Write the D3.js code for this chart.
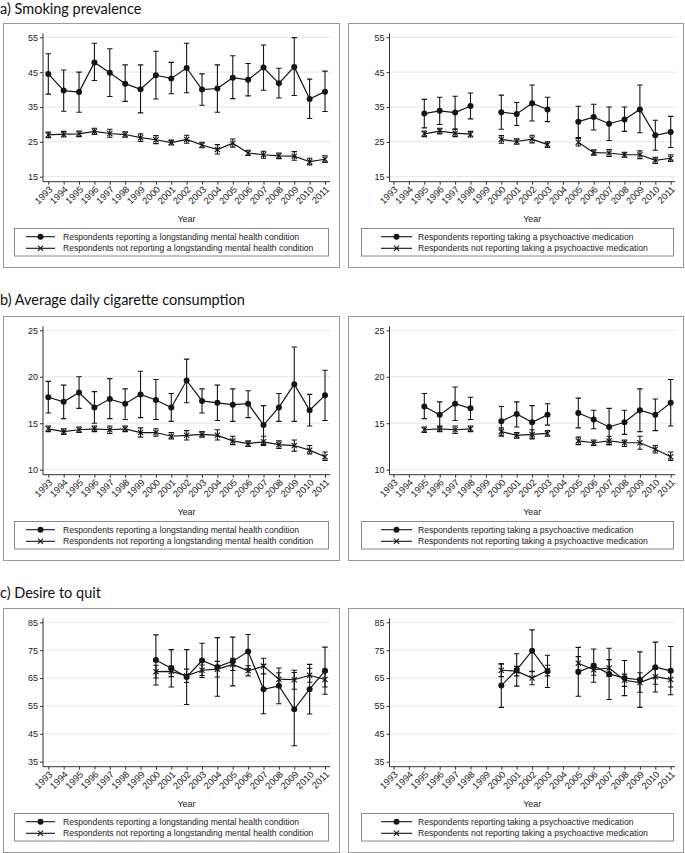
<!DOCTYPE html>
<html><head><meta charset="utf-8">
<script src="https://cdn.jsdelivr.net/npm/d3@7"></script>
<style>body{margin:0;background:#fff} svg{display:block}</style>
</head><body><svg id="c" width="685" height="853"></svg>
<script>
const years = [1993,1994,1995,1996,1997,1998,1999,2000,2001,2002,2003,2004,2005,2006,2007,2008,2009,2010,2011];
const yearLabels = years.map(String);
const _ = null;

// a) Smoking prevalence
const aTicks = [15,25,35,45,55];
const aMhVal = [44.5,39.7,39.3,47.8,44.8,41.7,40.1,44.1,43.2,46.2,40.0,40.3,43.4,42.8,46.3,41.8,46.5,37.3,39.4];
const aMhLo  = [38.7,33.8,33.5,42.6,38.0,36.6,33.3,37.3,38.8,39.1,35.5,33.5,37.4,38.2,39.8,37.6,38.3,31.7,33.7];
const aMhHi  = [50.3,45.6,45.0,53.3,51.7,47.1,47.1,51.0,47.8,53.3,44.5,47.1,49.7,47.5,52.8,46.1,54.9,43.0,45.3];
const aNoMhVal = [27.0,27.2,27.3,28.0,27.4,27.1,26.2,25.6,24.8,25.7,24.1,22.8,24.6,21.8,21.3,21.0,20.9,19.3,20.0];
const aNoMhLo  = [26.2,26.4,26.5,27.1,26.3,26.3,25.1,24.5,24.1,24.6,23.3,21.5,23.5,21.1,20.3,20.2,19.7,18.4,19.1];
const aNoMhHi  = [27.8,28.0,28.1,28.9,28.6,27.9,27.3,26.8,25.5,26.9,24.9,24.2,25.8,22.6,22.3,21.8,22.2,20.3,21.0];
const aMedVal = [_,_,33.1,33.9,33.4,35.3,_,33.5,33.0,36.1,34.3,_,30.8,32.1,30.2,31.4,34.3,26.9,27.8];
const aMedLo  = [_,_,29.0,30.0,28.7,31.6,_,28.6,29.7,31.0,30.8,_,26.2,28.4,25.4,28.0,27.6,22.6,23.4];
const aMedHi  = [_,_,37.2,37.8,38.1,39.0,_,38.4,36.3,41.3,37.8,_,35.2,35.8,35.0,35.0,41.3,31.2,32.3];
const aNoMedVal = [_,_,27.3,28.1,27.5,27.2,_,25.7,25.1,25.8,24.2,_,24.9,21.9,21.8,21.3,21.3,19.7,20.3];
const aNoMedLo  = [_,_,26.5,27.3,26.5,26.4,_,24.6,24.3,24.7,23.4,_,23.8,21.2,20.8,20.6,20.2,18.8,19.4];
const aNoMedHi  = [_,_,28.1,28.9,28.6,28.0,_,26.8,25.9,26.9,25.0,_,26.0,22.7,22.8,22.0,22.4,20.6,21.3];

// b) Average daily cigarette consumption
const bTicks = [10,15,20,25];
const bMhVal = [17.8,17.3,18.3,16.7,17.6,17.1,18.1,17.5,16.7,19.6,17.4,17.2,17.0,17.1,14.8,16.7,19.2,16.4,18.0];
const bMhLo  = [16.1,15.5,16.6,15.0,15.5,15.4,15.6,15.4,15.2,17.2,16.1,15.3,15.2,15.6,12.7,15.2,15.2,14.7,15.3];
const bMhHi  = [19.5,19.1,20.0,18.4,19.8,18.7,20.6,19.7,18.2,21.9,18.7,19.1,18.7,18.5,16.9,18.2,23.2,18.1,20.7];
const bNoMhVal = [14.4,14.1,14.3,14.4,14.3,14.4,14.0,14.0,13.6,13.7,13.8,13.7,13.1,12.8,13.0,12.7,12.6,12.1,11.4];
const bNoMhLo  = [14.1,13.8,14.0,14.1,13.9,14.1,13.5,13.6,13.3,13.2,13.5,13.2,12.7,12.5,12.6,12.3,12.0,11.7,11.0];
const bNoMhHi  = [14.7,14.4,14.6,14.7,14.7,14.7,14.5,14.4,14.0,14.2,14.1,14.3,13.6,13.1,13.6,13.1,13.2,12.6,11.9];
const bMedVal = [_,_,16.8,15.9,17.1,16.6,_,15.2,16.0,15.1,15.9,_,16.1,15.4,14.6,15.1,16.4,15.9,17.2];
const bMedLo  = [_,_,15.5,14.6,15.3,15.4,_,13.6,14.6,13.3,14.8,_,14.5,14.4,12.7,13.8,14.1,14.2,14.7];
const bMedHi  = [_,_,18.2,17.3,18.9,17.8,_,16.8,17.3,16.9,17.1,_,17.7,16.4,16.6,16.4,18.7,17.6,19.7];
const bNoMedVal = [_,_,14.3,14.4,14.3,14.4,_,14.1,13.7,13.8,13.9,_,13.1,12.9,13.1,12.9,12.9,12.2,11.4];
const bNoMedLo  = [_,_,14.0,14.1,13.9,14.1,_,13.7,13.4,13.4,13.6,_,12.7,12.6,12.7,12.5,12.2,11.8,11.0];
const bNoMedHi  = [_,_,14.6,14.7,14.7,14.7,_,14.5,14.0,14.3,14.2,_,13.5,13.2,13.6,13.2,13.6,12.6,11.9];

// c) Desire to quit
const cTicks = [35,45,55,65,75,85];
const cMhVal = [_,_,_,_,_,_,_,71.5,68.5,65.4,71.3,69.0,71.0,74.5,61.0,62.2,53.8,61.0,67.6];
const cMhLo  = [_,_,_,_,_,_,_,62.5,61.8,55.5,65.2,58.5,62.2,68.3,52.2,55.8,40.7,52.1,59.2];
const cMhHi  = [_,_,_,_,_,_,_,80.5,75.2,75.2,77.5,79.5,79.7,80.6,69.8,68.6,67.0,69.9,76.1];
const cNoMhVal = [_,_,_,_,_,_,_,67.3,67.4,65.8,67.8,68.2,69.9,67.6,69.3,64.6,64.4,66.0,64.5];
const cNoMhLo  = [_,_,_,_,_,_,_,65.0,65.5,63.4,65.9,65.4,67.7,65.8,66.5,62.3,61.0,63.5,61.8];
const cNoMhHi  = [_,_,_,_,_,_,_,69.6,69.3,68.2,69.7,71.0,72.1,69.4,72.1,66.9,67.8,68.5,67.2];
const cMedVal = [_,_,_,_,_,_,_,62.3,67.9,74.8,67.4,_,67.2,69.4,66.5,65.0,64.4,68.9,67.6];
const cMedLo  = [_,_,_,_,_,_,_,54.5,62.1,67.3,61.6,_,58.5,63.5,57.3,58.7,54.5,60.0,59.0];
const cMedHi  = [_,_,_,_,_,_,_,70.1,73.7,82.3,73.2,_,76.0,75.4,75.7,71.3,74.4,77.9,76.3];
const cNoMedVal = [_,_,_,_,_,_,_,67.8,67.5,65.0,67.7,_,70.3,68.0,68.6,64.2,63.4,65.5,64.5];
const cNoMedLo  = [_,_,_,_,_,_,_,65.5,65.8,62.6,65.8,_,67.9,66.0,65.6,62.0,59.9,62.8,61.8];
const cNoMedHi  = [_,_,_,_,_,_,_,70.1,69.2,67.4,69.6,_,72.7,70.0,71.6,66.4,66.9,68.2,67.2];

const rowTitles = ["a) Smoking prevalence","b) Average daily cigarette consumption","c) Desire to quit"];
const legendMh = ["Respondents reporting a longstanding mental health condition","Respondents not reporting a longstanding mental health condition"];
const legendMed = ["Respondents reporting taking a psychoactive medication","Respondents not reporting taking a psychoactive medication"];
const xTitle = "Year";

const rows = [
  {title: rowTitles[0], top: 23, titleY: 13.5, ticks: aTicks,
   left: [[aMhVal,aMhLo,aMhHi],[aNoMhVal,aNoMhLo,aNoMhHi]],
   right: [[aMedVal,aMedLo,aMedHi],[aNoMedVal,aNoMedLo,aNoMedHi]]},
  {title: rowTitles[1], top: 316, titleY: 305, ticks: bTicks,
   left: [[bMhVal,bMhLo,bMhHi],[bNoMhVal,bNoMhLo,bNoMhHi]],
   right: [[bMedVal,bMedLo,bMedHi],[bNoMedVal,bNoMedLo,bNoMedHi]]},
  {title: rowTitles[2], top: 608, titleY: 597.5, ticks: cTicks,
   left: [[cMhVal,cMhLo,cMhHi],[cNoMhVal,cNoMhLo,cNoMhHi]],
   right: [[cMedVal,cMedLo,cMedHi],[cNoMedVal,cNoMedLo,cNoMedHi]]}
];

const svg = d3.select("#c");
const INK = "#151515";
const FONT = "'Liberation Sans', Arial, sans-serif";

const layouts = {
  left:  {bx0: 3,   bx1: 339, ax: 43,  t0: 48.3,  t1: 325,   xend: 330, lg0: 14,  lg1: 328, sym0: 26,  sym1: 55,  tx: 63,  legend: legendMh},
  right: {bx0: 348, bx1: 683, ax: 389.5, t0: 393.5, t1: 670.7, xend: 675, lg0: 361, lg1: 673, sym0: 381, sym1: 412, tx: 418, legend: legendMed}
};

function marker(g, type, x, y) {
  if (type === 0) {
    g.append("circle").attr("cx", x).attr("cy", y).attr("r", 3).attr("fill", INK);
  } else {
    const s = 2.6;
    g.append("path").attr("d", `M${x-s},${y-s}L${x+s},${y+s}M${x-s},${y+s}L${x+s},${y-s}`)
      .attr("stroke", INK).attr("stroke-width", 1.1).attr("fill", "none");
  }
}

function drawPanel(row, side) {
  const L = layouts[side];
  const T = row.top;
  const g = svg.append("g");
  g.append("rect").attr("x", L.bx0 + 0.5).attr("y", T + 0.5)
    .attr("width", L.bx1 - L.bx0).attr("height", 244)
    .attr("fill", "#fff").attr("stroke", "#9a9a9a").attr("stroke-width", 1);

  const ticks = row.ticks;
  const y = d3.scaleLinear().domain([ticks[0], ticks[ticks.length-1]]).range([T + 153.7, T + 14.3]);
  const x = d3.scalePoint().domain(years).range([L.t0, L.t1]);
  const axisY = T + 158.7;

  g.append("g").selectAll("line").data(ticks).join("line")
    .attr("x1", L.ax).attr("x2", L.xend)
    .attr("y1", d => y(d)).attr("y2", d => y(d))
    .attr("stroke", "#e6e6e6").attr("stroke-width", 1);

  const yAxis = d3.axisLeft(y).tickValues(ticks).tickSize(3).tickPadding(2).tickFormat(d3.format("d"));
  const ya = g.append("g").attr("transform", `translate(${L.ax},0)`).call(yAxis);
  ya.select(".domain").remove();
  ya.append("line").attr("x1", 0).attr("x2", 0).attr("y1", T + 10.3).attr("y2", axisY).attr("stroke", "#333");
  ya.selectAll(".tick line").attr("stroke", "#333");
  ya.selectAll("text").attr("font-family", FONT).attr("font-size", "9px").attr("fill", "#222");

  const xAxis = d3.axisBottom(x).tickValues(years).tickSize(3).tickFormat((d, i) => yearLabels[i]);
  const xa = g.append("g").attr("transform", `translate(0,${axisY})`).call(xAxis);
  xa.select(".domain").remove();
  xa.append("line").attr("x1", L.ax).attr("x2", L.xend).attr("y1", 0).attr("y2", 0).attr("stroke", "#333");
  xa.selectAll(".tick line").attr("stroke", "#333");
  xa.selectAll("text").attr("font-family", FONT).attr("font-size", "9.3px").attr("fill", "#222")
    .attr("text-anchor", "end").attr("dy", "0.35em")
    .attr("transform", "translate(2,6) rotate(-45)").attr("y", 0).attr("x", 0);

  g.append("text").attr("x", (L.ax + L.xend) / 2).attr("y", T + 196.3).attr("dy", "0.35em")
    .attr("text-anchor", "middle").attr("font-family", FONT).attr("font-size", "9px").attr("fill", "#222")
    .text(xTitle);

  const series = row[side];
  series.forEach((s, si) => {
    const [vals, lo, hi] = s;
    const sg = g.append("g");
    const line = d3.line().defined(d => d[1] != null).x(d => x(d[0])).y(d => y(d[1]));
    sg.append("path").datum(years.map((yr, i) => [yr, vals[i]]))
      .attr("d", line).attr("fill", "none").attr("stroke", INK).attr("stroke-width", 1.2);
    years.forEach((yr, i) => {
      if (vals[i] == null) return;
      const cx = x(yr), y0 = y(lo[i]), y1 = y(hi[i]), cw = 2.7;
      sg.append("path").attr("d", `M${cx},${y0}L${cx},${y1}M${cx-cw},${y0}L${cx+cw},${y0}M${cx-cw},${y1}L${cx+cw},${y1}`)
        .attr("stroke", INK).attr("stroke-width", 1.1).attr("fill", "none");
      marker(sg, si, cx, y(vals[i]));
    });
  });

  g.append("rect").attr("x", L.lg0 + 0.5).attr("y", T + 205.5).attr("width", L.lg1 - L.lg0).attr("height", 27.5)
    .attr("fill", "#fff").attr("stroke", "#8a8a8a");
  [T + 213.7, T + 225.3].forEach((ly, i) => {
    g.append("line").attr("x1", L.sym0).attr("x2", L.sym1).attr("y1", ly).attr("y2", ly)
      .attr("stroke", INK).attr("stroke-width", 1.1);
    marker(g, i, (L.sym0 + L.sym1) / 2, ly);
    g.append("text").attr("x", L.tx).attr("y", ly).attr("dy", "0.35em")
      .attr("font-family", FONT).attr("font-size", "8.6px").attr("fill", "#222")
      .text(L.legend[i]);
  });
}

rows.forEach(row => {
  svg.append("text").attr("x", 0).attr("y", row.titleY)
    .attr("font-family", "Lato, 'Open Sans', sans-serif").attr("font-size", "14.5px").attr("fill", "#111")
    .text(row.title);
  drawPanel(row, "left");
  drawPanel(row, "right");
});
</script></body></html>
